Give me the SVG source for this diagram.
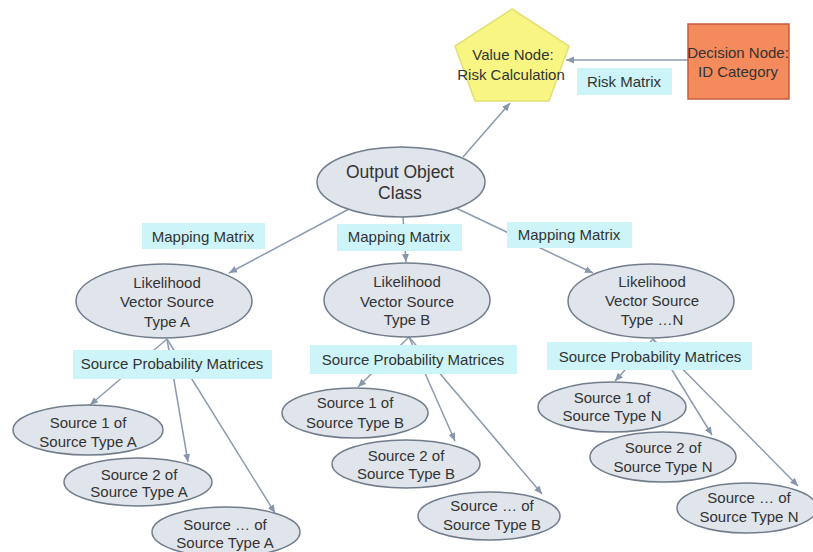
<svg xmlns="http://www.w3.org/2000/svg" width="813" height="552" viewBox="0 0 813 552">
<defs>
<marker id="arr" markerUnits="userSpaceOnUse" markerWidth="9" markerHeight="8" refX="8" refY="4" orient="auto">
<path d="M0,0.5 L8,4 L0,7.5 z" fill="#8797ab"/>
</marker>
<style>
text{font-family:"Liberation Sans",Arial,sans-serif;font-size:15px;fill:#333;text-anchor:middle}
.big{font-size:17.5px}
.ell{fill:#e0e4eb;stroke:#717d8b;stroke-width:1.5}
.lbl{fill:#cdf4f8}
.con{stroke:#8c9bb0;stroke-width:1.5;fill:none;marker-end:url(#arr)}
</style>
</defs>
<rect width="813" height="552" fill="#fff"/>
<g id="connectors">
<line class="con" x1="688" y1="60" x2="566" y2="60"/>
<line class="con" x1="463" y1="157" x2="510" y2="103"/>
<line class="con" x1="349" y1="209" x2="229" y2="273"/>
<line class="con" x1="403" y1="217" x2="406" y2="262"/>
<line class="con" x1="456" y1="208" x2="593" y2="273"/>
<line class="con" x1="167" y1="339" x2="90" y2="405"/>
<line class="con" x1="167" y1="339" x2="188" y2="462"/>
<line class="con" x1="167" y1="339" x2="275" y2="513"/>
<line class="con" x1="409" y1="337" x2="358" y2="387"/>
<line class="con" x1="409" y1="337" x2="455" y2="441"/>
<line class="con" x1="409" y1="337" x2="542" y2="494"/>
<line class="con" x1="653" y1="339" x2="615" y2="381"/>
<line class="con" x1="653" y1="339" x2="712" y2="435"/>
<line class="con" x1="653" y1="339" x2="798" y2="486"/>
</g>
<g id="labels">
<g id="lbl-risk"><rect class="lbl" x="577" y="68" width="95" height="27"/><text x="624" y="87">Risk Matrix</text></g>
<g id="lbl-map-a"><rect class="lbl" x="142" y="223" width="123" height="26"/><text x="203" y="242">Mapping Matrix</text></g>
<g id="lbl-map-b"><rect class="lbl" x="337" y="224" width="125" height="27"/><text x="399" y="242">Mapping Matrix</text></g>
<g id="lbl-map-n"><rect class="lbl" x="507" y="222" width="125" height="26"/><text x="569" y="240">Mapping Matrix</text></g>
<g id="lbl-spm-a"><rect class="lbl" x="73" y="350" width="199" height="29"/><text x="172" y="369">Source Probability Matrices</text></g>
<g id="lbl-spm-b"><rect class="lbl" x="310" y="345" width="207" height="29"/><text x="413" y="365">Source Probability Matrices</text></g>
<g id="lbl-spm-n"><rect class="lbl" x="547" y="342" width="205" height="28"/><text x="650" y="362">Source Probability Matrices</text></g>
</g>
<g id="value-node">
<polygon points="512,9 569,46 549,101 475,101 455,46" fill="#f8f583" stroke="#e4df72" stroke-width="1.5"/>
<text x="513" y="60">Value Node:</text>
<text x="511" y="80">Risk Calculation</text>
</g>
<g id="decision-node">
<rect x="688" y="24" width="101" height="75" fill="#f58a5d" stroke="#c45c3e" stroke-width="1.5"/>
<text x="738" y="58">Decision Node:</text>
<text x="738" y="77">ID Category</text>
</g>
<g id="output-class">
<ellipse class="ell" cx="401" cy="182" rx="84" ry="35"/>
<text class="big" x="400" y="178">Output Object</text>
<text class="big" x="400" y="199">Class</text>
</g>
<g id="lv-a">
<ellipse class="ell" cx="164" cy="301" rx="88" ry="37"/>
<text x="167" y="288">Likelihood</text>
<text x="167" y="307">Vector Source</text>
<text x="167" y="327">Type A</text>
</g>
<g id="lv-b">
<ellipse class="ell" cx="407" cy="300" rx="83" ry="37"/>
<text x="407" y="287">Likelihood</text>
<text x="407" y="307">Vector Source</text>
<text x="407" y="325">Type B</text>
</g>
<g id="lv-n">
<ellipse class="ell" cx="651" cy="301" rx="83" ry="37"/>
<text x="652" y="287">Likelihood</text>
<text x="652" y="306">Vector Source</text>
<text x="652" y="325">Type …N</text>
</g>
<g id="s1-a"><ellipse class="ell" cx="88" cy="430" rx="75" ry="25"/><text x="88" y="428">Source 1 of</text><text x="88" y="447">Source Type A</text></g>
<g id="s2-a"><ellipse class="ell" cx="138" cy="482" rx="74" ry="24"/><text x="139" y="480">Source 2 of</text><text x="139" y="497">Source Type A</text></g>
<g id="sn-a"><ellipse class="ell" cx="226" cy="532" rx="74" ry="25"/><text x="225" y="530">Source … of</text><text x="225" y="548">Source Type A</text></g>
<g id="s1-b"><ellipse class="ell" cx="355" cy="413" rx="73" ry="25"/><text x="355" y="408">Source 1 of</text><text x="355" y="428">Source Type B</text></g>
<g id="s2-b"><ellipse class="ell" cx="406" cy="464" rx="74" ry="24"/><text x="406" y="461">Source 2 of</text><text x="406" y="479">Source Type B</text></g>
<g id="sn-b"><ellipse class="ell" cx="489" cy="516" rx="71" ry="24"/><text x="492" y="511">Source … of</text><text x="492" y="530">Source Type B</text></g>
<g id="s1-n"><ellipse class="ell" cx="612" cy="407" rx="74" ry="25"/><text x="612" y="403">Source 1 of</text><text x="612" y="421">Source Type N</text></g>
<g id="s2-n"><ellipse class="ell" cx="663" cy="457" rx="73" ry="25"/><text x="663" y="453">Source 2 of</text><text x="663" y="472">Source Type N</text></g>
<g id="sn-n"><ellipse class="ell" cx="747" cy="508" rx="70" ry="25"/><text x="749" y="503">Source … of</text><text x="749" y="522">Source Type N</text></g>
</svg>
